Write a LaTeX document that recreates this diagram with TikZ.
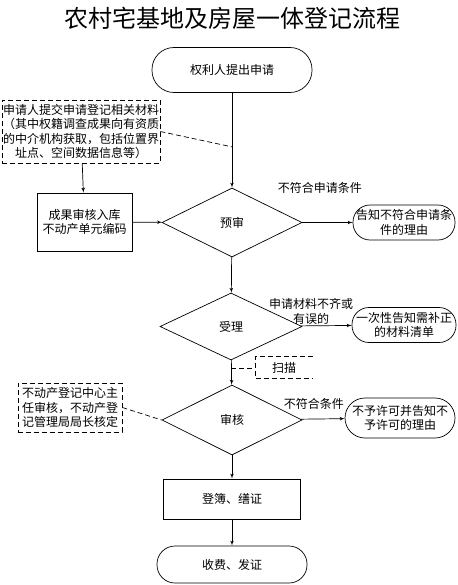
\documentclass[tikz,border=0pt]{standalone}
\usepackage{fontspec}
\newfontfamily\cjk{Noto Sans CJK SC}
\usepackage{tikz}
\usetikzlibrary{shapes,arrows,positioning,calc}

\begin{document}
\begin{tikzpicture}[x=1pt,y=-1pt,>=latex',line width=0.7pt,
  every node/.style={font=\cjk\fontsize{12}{14.5}\selectfont,align=center},
  proc/.style={draw,rectangle,inner sep=1pt},
  term/.style={draw,rectangle,rounded corners=#1,inner sep=1pt},
  term/.default=17pt,
  decision/.style={draw,diamond,inner sep=0pt},
  note/.style={draw,rectangle,dash pattern=on 5pt off 3pt,inner sep=1pt},
  lbl/.style={inner sep=1pt}]
\useasboundingbox (0,0) rectangle (457,585);
\node[font=\cjk\fontsize{24}{28}\selectfont](title) at (232,18){农村宅基地及房屋一体登记流程};
\node[term=22pt,minimum width=160pt,minimum height=45pt](start) at (232,70){权利人提出申请};
\node[note,minimum width=158pt,minimum height=63pt](apply) at (81,131.5){申请人提交申请登记相关材料\\（其中权籍调查成果向有资质\\的中介机构获取，包括位置界\\址点、空间数据信息等）};
\node[proc,minimum width=95pt,minimum height=58pt](result) at (84.5,222){成果审核入库\\不动产单元编码};
\node[decision,minimum width=140pt,minimum height=69pt](pre) at (232,222.5){预审};
\node[term,minimum width=102pt,minimum height=35pt](rejpre) at (404,222.5){告知不符合申请条\\件的理由};
\node[decision,minimum width=142pt,minimum height=67pt](accept) at (231,326.5){受理};
\node[term,minimum width=104pt,minimum height=35pt](notify) at (404,325){一次性告知需补正\\的材料清单};
\node[minimum width=57pt,minimum height=21pt,inner sep=0pt](scan) at (284,367.5){扫描};
\node[note,minimum width=104pt,minimum height=49pt](approve) at (70,407.5){不动产登记中心主\\任审核，不动产登\\记管理局局长核定};
\node[decision,minimum width=140pt,minimum height=70pt](review) at (232,420){审核};
\node[term=20pt,minimum width=110pt,minimum height=40pt](deny) at (400,418){不予许可并告知不\\予许可的理由};
\node[proc,minimum width=137pt,minimum height=40pt](register) at (232,499){登簿、缮证};
\node[term=18pt,minimum width=150pt,minimum height=37pt](issue) at (232,564.5){收费、发证};
% main flow
\draw[->](start)--(pre);
\coordinate(j1) at ($(start.south)!0.57!(pre.north)$);
\draw[dash pattern=on 5pt off 3pt](apply.east)--(j1);
\draw[->](apply)--(result);
\draw[->](result)--(pre);
\draw[->](pre)--node[lbl,above=28pt,pos=0.35]{不符合申请条件}(rejpre);
\draw[->](pre)--(accept);
\draw[->](accept)--node[lbl,above,pos=0.2]{申请材料不齐或\\有误的}(notify);
\draw[->](accept)--(review);
\coordinate(j2) at ($(accept.south)!0.32!(review.north)$);
\draw[dash pattern=on 5pt off 3pt](j2)--(scan.west |- j2);
\draw[dash pattern=on 5pt off 3pt](scan.north east)-|(scan.south west)--(scan.south east);
\draw[dash pattern=on 5pt off 3pt](approve.east)--(review.west);
\draw[->](review)--node[lbl,above=8pt,pos=0.3]{不符合条件}(deny);
\draw[->](review)--(register);
\draw[->](register)--(issue);
\end{tikzpicture}
\end{document}
